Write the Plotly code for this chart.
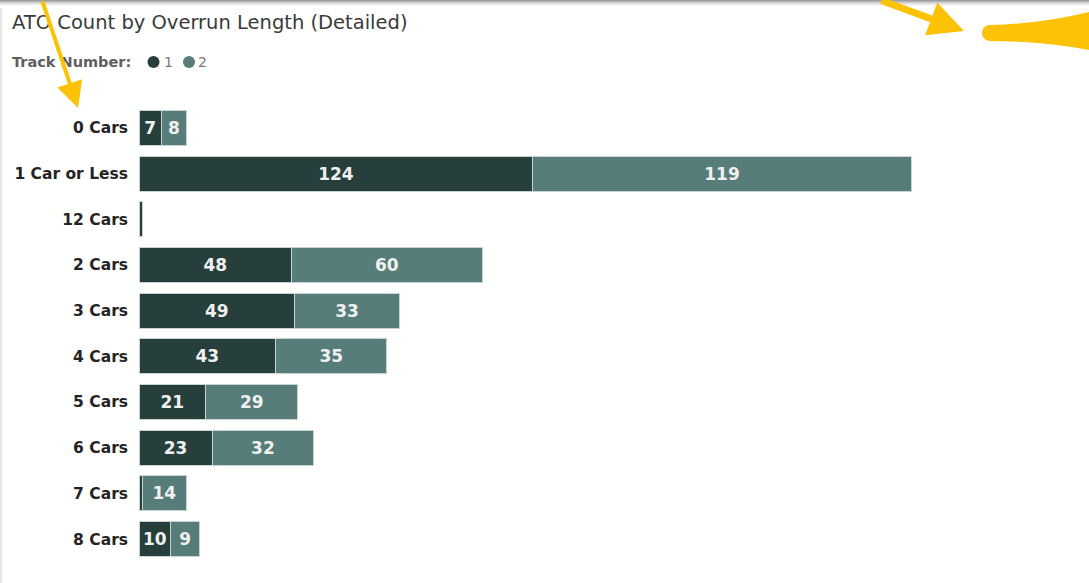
import plotly.graph_objects as go

categories = ["0 Cars", "1 Car or Less", "12 Cars", "2 Cars", "3 Cars",
              "4 Cars", "5 Cars", "6 Cars", "7 Cars", "8 Cars"]
track1 = [7, 124, 1, 48, 49, 43, 21, 23, 1, 10]
track2 = [8, 119, 0, 60, 33, 35, 29, 32, 14, 9]
series_names = ["1", "2"]
colors = ["#263F3C", "#567D79"]

W, H = 1089, 583
ML, MR, MT, MB = 139, 10, 105, 21
PW, PH = W - ML - MR, H - MT - MB

def px(x):
    return (x - ML) / PW

def py(y):
    return (H - MB - y) / PH

fig = go.Figure()
for name, vals, col in zip(series_names, [track1, track2], colors):
    fig.add_trace(go.Bar(
        y=categories, x=vals, name=name, orientation="h",
        marker=dict(color=col, line=dict(color="#C9D3D1", width=1)),
        texttemplate="%{x}", textposition="inside", insidetextanchor="middle",
        textfont=dict(family="DejaVu Sans", size=17, color="#F0F0F0", weight=600),
        hoverinfo="skip", showlegend=False,
    ))

fig.update_layout(
    width=W, height=H, barmode="stack", bargap=0.235,
    margin=dict(l=ML, r=MR, t=MT, b=MB),
    plot_bgcolor="white", paper_bgcolor="white",
    uniformtext=dict(minsize=17, mode="hide"),
    xaxis=dict(range=[0, PW / 3.177], visible=False, showgrid=False, zeroline=False),
    yaxis=dict(autorange="reversed", showgrid=False, zeroline=False, showline=False,
               ticks="", ticklabelstandoff=10,
               tickfont=dict(family="DejaVu Sans", size=15.5, color="#252423", weight="bold")),
    font=dict(family="DejaVu Sans"),
)

# title and legend
fig.add_annotation(x=px(10), y=py(22), xref="paper", yref="paper", xanchor="left",
                   yanchor="middle", showarrow=False,
                   text="ATO Count by Overrun Length (Detailed)",
                   font=dict(family="DejaVu Sans", size=19.5, color="#3A3A3A"))
fig.add_annotation(x=px(10), y=py(62), xref="paper", yref="paper", xanchor="left",
                   yanchor="middle", showarrow=False,
                   text="<b>Track Number:</b>",
                   font=dict(family="DejaVu Sans", size=14.5, color="#605E5C"))
for cx, tx, col, lab in [(153.5, 162, colors[0], series_names[0]),
                         (189, 196, colors[1], series_names[1])]:
    fig.add_shape(type="circle", xref="paper", yref="paper",
                  x0=px(cx - 6), x1=px(cx + 6), y0=py(68), y1=py(56),
                  fillcolor=col, line_width=0)
    fig.add_annotation(x=px(tx), y=py(62), xref="paper", yref="paper", xanchor="left",
                       yanchor="middle", showarrow=False, text=lab,
                       font=dict(family="DejaVu Sans", size=14, color="#7A7A7A"))

# top shadow band
for i, c in enumerate(["#9E9E9E", "#B5B5B5", "#CCCCCC", "#E0E0E0", "#EEEEEE", "#F7F7F7"]):
    fig.add_shape(type="rect", xref="paper", yref="paper", layer="below",
                  x0=px(0), x1=px(W), y0=py(i + 1), y1=py(i), line_width=0, fillcolor=c)
fig.add_shape(type="line", xref="paper", yref="paper", x0=px(1), x1=px(1),
              y0=py(8), y1=py(583), line=dict(color="#E6E6E6", width=2))

yellow = "#FDC106"
# left arrow
fig.add_annotation(x=px(78), y=py(108), xref="paper", yref="paper",
                   ax=42 - 78, ay=-4 - 108, axref="pixel", ayref="pixel",
                   showarrow=True, arrowhead=2, arrowsize=1.3, arrowwidth=4,
                   arrowcolor=yellow, text="")
# right arrow
fig.add_annotation(x=px(964), y=py(31), xref="paper", yref="paper",
                   ax=880 - 964, ay=-6 - 31, axref="pixel", ayref="pixel",
                   showarrow=True, arrowhead=2, arrowsize=1.0, arrowwidth=7,
                   arrowcolor=yellow, text="")
# thick curved stroke
path = "M {} {} Q {} {} {} {} L {} {} Q {} {} {} {} Z".format(
    px(990), py(25), px(1040), py(24), px(1089), py(12),
    px(1089), py(50), px(1040), py(41), px(990), py(41))
fig.add_shape(type="path", xref="paper", yref="paper", path=path,
              fillcolor=yellow, line=dict(color=yellow, width=0))
fig.add_shape(type="circle", xref="paper", yref="paper",
              x0=px(982), x1=px(998), y0=py(41), y1=py(25),
              fillcolor=yellow, line_width=0)

fig.write_html("out.html", config={"displayModeBar": False},
               post_script="document.body.style.margin='0';")
